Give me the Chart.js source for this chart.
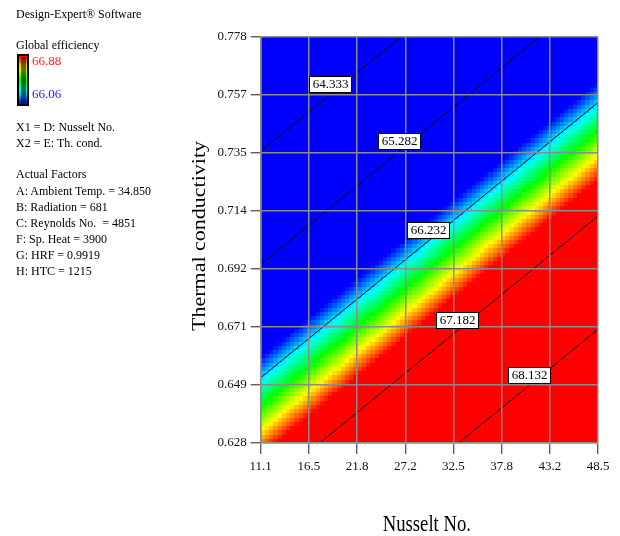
<!DOCTYPE html>
<html>
<head>
<meta charset="utf-8">
<script src="https://cdn.jsdelivr.net/npm/chart.js@4.4.0/dist/chart.umd.min.js"></script>
<style>
  html, body { margin: 0; padding: 0; background: #fff; }
  #wrap { position: relative; width: 620px; height: 536px; }
  #wrap canvas { position: absolute; left: 0; top: 0; }
  .side { position: absolute; left: 16px; font-family: "Liberation Serif", "Times New Roman", serif;
          font-size: 12px; line-height: 16px; color: #000; white-space: pre; }
</style>
</head>
<body>
<div id="wrap">
  <canvas id="chart" width="620" height="536"></canvas>
</div>
<script>
// Axis factors
const nusseltRange = [11.1, 48.5];
const condRange = [0.628, 0.778];
const xTickLabels = ['11.1', '16.5', '21.8', '27.2', '32.5', '37.8', '43.2', '48.5'];
const yTickLabels = ['0.628', '0.649', '0.671', '0.692', '0.714', '0.735', '0.757', '0.778'];
const xAxisTitle = 'Nusselt No.';
const yAxisTitle = 'Thermal conductivity';

// Fitted response: Global efficiency = b0 + b1*(Nu - 11.1) + b2*(k - 0.628)
const surfaceCoefs = [66.779, 0.06167, -22.686];

// Colour scale limits (low, high)
const colorRange = [66.06, 66.88];

// Contour levels and the Nusselt No. where each label sits
const contourLevels = [64.333, 65.282, 66.232, 67.182, 68.132];
const labelNusselt = [18.8, 26.4, 29.7, 32.9, 40.9];

// Resolution of the shaded surface (columns, rows)
const gridSize = [80, 96];

// Side panel text
const sideLines = [
  ['Design-Expert® Software', 14],
  ['Global efficiency', 45],
  ['X1 = D: Nusselt No.', 127],
  ['X2 = E: Th. cond.', 143],
  ['Actual Factors', 174],
  ['A: Ambient Temp. = 34.850', 191],
  ['B: Radiation = 681', 207],
  ['C: Reynolds No.  = 4851', 223],
  ['F: Sp. Heat = 3900', 239],
  ['G: HRF = 0.9919', 255],
  ['H: HTC = 1215', 271]
];

const SERIF = '"Liberation Serif", "Times New Roman", serif';

function efficiency(nu, k) {
  return surfaceCoefs[0] + surfaceCoefs[1] * (nu - nusseltRange[0]) + surfaceCoefs[2] * (k - condRange[0]);
}
function condOnContour(level, nu) {
  return condRange[0] + (level - surfaceCoefs[0] - surfaceCoefs[1] * (nu - nusseltRange[0])) / surfaceCoefs[2];
}
function nuOnContour(level, k) {
  return nusseltRange[0] + (level - surfaceCoefs[0] - surfaceCoefs[2] * (k - condRange[0])) / surfaceCoefs[1];
}
function contourSegment(level) {
  const lo = Math.max(nusseltRange[0], nuOnContour(level, condRange[0]));
  const hi = Math.min(nusseltRange[1], nuOnContour(level, condRange[1]));
  return [{ x: lo, y: condOnContour(level, lo) }, { x: hi, y: condOnContour(level, hi) }];
}

// Blue -> cyan -> green -> yellow -> red
const paletteStops = [
  [0, [0, 0, 255]], [0.25, [0, 255, 255]], [0.5, [0, 255, 0]], [0.75, [255, 255, 0]], [1, [255, 0, 0]]
];
function colorAt(t) {
  t = Math.max(0, Math.min(1, t));
  for (let i = 1; i < paletteStops.length; i++) {
    const [t1, c1] = paletteStops[i];
    const [t0, c0] = paletteStops[i - 1];
    if (t <= t1) {
      const f = (t - t0) / (t1 - t0);
      const c = c0.map((v, j) => Math.round(v + (c1[j] - v) * f));
      return `rgb(${c[0]},${c[1]},${c[2]})`;
    }
  }
  return 'rgb(255,0,0)';
}
function colorFor(v) {
  return colorAt((v - colorRange[0]) / (colorRange[1] - colorRange[0]));
}

// Shaded response surface, cell by cell through the chart scales
const surfacePlugin = {
  id: 'surface',
  beforeDatasetsDraw(chart) {
    const { ctx, chartArea: a, scales: { x, y } } = chart;
    const [nx, ny] = gridSize;
    const dNu = (nusseltRange[1] - nusseltRange[0]) / nx;
    const dK = (condRange[1] - condRange[0]) / ny;
    ctx.save();
    ctx.beginPath();
    ctx.rect(a.left, a.top, a.right - a.left, a.bottom - a.top);
    ctx.clip();
    for (let i = 0; i < nx; i++) {
      const nu0 = nusseltRange[0] + i * dNu;
      const px0 = Math.round(x.getPixelForValue(nu0));
      const px1 = Math.round(x.getPixelForValue(nu0 + dNu));
      for (let j = 0; j < ny; j++) {
        const k0 = condRange[0] + j * dK;
        const py0 = Math.round(y.getPixelForValue(k0));
        const py1 = Math.round(y.getPixelForValue(k0 + dK));
        ctx.fillStyle = colorFor(efficiency(nu0 + dNu / 2, k0 + dK / 2));
        ctx.fillRect(px0, py1, px1 - px0, py0 - py1);
      }
    }
    ctx.restore();
  }
};

// Contour value boxes, axis titles and the colour key
const annotatePlugin = {
  id: 'annotate',
  afterDraw(chart) {
    const { ctx, chartArea: a, scales: { x, y } } = chart;
    ctx.save();
    ctx.font = '13px ' + SERIF;
    ctx.textAlign = 'center';
    ctx.textBaseline = 'middle';
    contourLevels.forEach((level, i) => {
      const nu = labelNusselt[i];
      const px = x.getPixelForValue(nu);
      const py = y.getPixelForValue(condOnContour(level, nu));
      const text = level.toFixed(3);
      const w = Math.round(ctx.measureText(text).width + 6);
      const h = 16;
      const bx = Math.round(px - w / 2) + 0.5;
      const by = Math.round(py - 2.5 - h) + 0.5;
      ctx.fillStyle = '#fff';
      ctx.fillRect(bx, by, w, h);
      ctx.strokeStyle = '#000';
      ctx.lineWidth = 1;
      ctx.strokeRect(bx, by, w, h);
      ctx.fillStyle = '#000';
      ctx.fillText(text, bx + w / 2, by + h / 2 + 0.5);
    });

    // axis titles (narrow serif face)
    ctx.fillStyle = '#000';
    ctx.textBaseline = 'alphabetic';
    ctx.textAlign = 'center';
    ctx.font = '24px ' + SERIF;
    ctx.save();
    ctx.translate((a.left + a.right) / 2 - 2.5, 530.5);
    ctx.scale(0.78, 1);
    ctx.fillText(xAxisTitle, 0, 0);
    ctx.restore();

    ctx.font = '22px ' + SERIF;
    ctx.save();
    ctx.translate(204.5, (a.top + a.bottom) / 2 - 4);
    ctx.rotate(-Math.PI / 2);
    ctx.scale(1, 0.85);
    ctx.fillText(yAxisTitle, 0, 0);
    ctx.restore();

    // colour key
    const kx = 17, ky = 54, kw = 12, kh = 52;
    ctx.fillStyle = '#000';
    ctx.fillRect(kx, ky, kw, kh);
    const g = ctx.createLinearGradient(0, ky + 2, 0, ky + kh - 2);
    for (let s = 0; s <= 10; s++) g.addColorStop(s / 10, colorAt(1 - s / 10));
    ctx.fillStyle = g;
    ctx.fillRect(kx + 2, ky + 2, kw - 4, kh - 4);
    ctx.fillStyle = 'rgba(0,0,0,0.55)';
    ctx.fillRect(kx + 4, ky + 3, kw - 7, kh - 6);

    ctx.font = '13px ' + SERIF;
    ctx.textAlign = 'left';
    ctx.textBaseline = 'middle';
    ctx.fillStyle = '#ff2020';
    ctx.fillText(colorRange[1].toFixed(2), 32, 62);
    ctx.fillStyle = '#2020ff';
    ctx.fillText(colorRange[0].toFixed(2), 32, 95);
    ctx.restore();
  }
};

const wrap = document.getElementById('wrap');
sideLines.forEach(([text, cy]) => {
  const d = document.createElement('div');
  d.className = 'side';
  d.style.top = (cy - 8) + 'px';
  d.textContent = text;
  wrap.appendChild(d);
});

function evenTicks(range, labels) {
  return labels.map((_, i) => ({ value: range[0] + i * (range[1] - range[0]) / (labels.length - 1) }));
}

new Chart(document.getElementById('chart'), {
  type: 'scatter',
  data: {
    datasets: contourLevels.map(level => ({
      label: String(level),
      data: contourSegment(level),
      showLine: true,
      borderColor: '#000',
      borderWidth: 1,
      pointRadius: 0,
      pointHoverRadius: 0
    }))
  },
  options: {
    responsive: false,
    animation: false,
    events: [],
    layout: { padding: { left: 188, top: 37, right: 22, bottom: 1 } },
    plugins: { legend: { display: false }, tooltip: { enabled: false } },
    scales: {
      x: {
        type: 'linear',
        min: nusseltRange[0],
        max: nusseltRange[1],
        afterBuildTicks: s => { s.ticks = evenTicks(nusseltRange, xTickLabels); },
        afterFit: s => { s.height = 92; },
        ticks: {
          callback: (v, i) => xTickLabels[i],
          font: { family: SERIF, size: 13 },
          color: '#111',
          padding: 5,
          maxRotation: 0,
          autoSkip: false
        },
        grid: { color: '#8c8c8c', lineWidth: 1.5, tickLength: 11, tickColor: '#444', tickWidth: 1.2, z: 1 },
        border: { color: '#8c8c8c', width: 1.5, z: 1 },
        title: { display: false }
      },
      y: {
        type: 'linear',
        min: condRange[0],
        max: condRange[1],
        afterBuildTicks: s => { s.ticks = evenTicks(condRange, yTickLabels); },
        afterFit: s => { s.width = 72.7; },
        ticks: {
          callback: (v, i) => yTickLabels[i],
          font: { family: SERIF, size: 13 },
          color: '#111',
          padding: 4,
          autoSkip: false
        },
        grid: { color: '#8c8c8c', lineWidth: 1.5, tickLength: 10, tickColor: '#444', tickWidth: 1.2, z: 1 },
        border: { color: '#8c8c8c', width: 1.5, z: 1 },
        title: { display: false }
      }
    }
  },
  plugins: [surfacePlugin, annotatePlugin]
});
</script>
</body>
</html>
